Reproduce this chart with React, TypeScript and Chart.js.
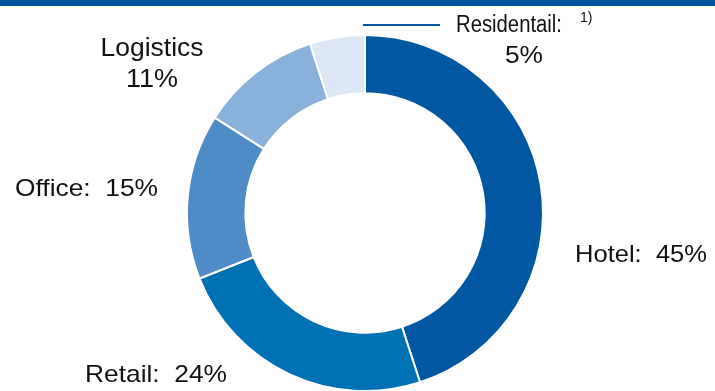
import React, { useEffect, useRef } from "react";
import { Chart, registerables } from "chart.js";

Chart.register(...registerables);

const categories = ["Hotel", "Retail", "Office", "Logistics", "Residentail"];
const shares = [45, 24, 15, 11, 5];
const colors = ["#0057A2", "#0071B5", "#4F8BC7", "#88B1DC", "#DCE6F5"];

const FAMILY = "'Liberation Sans', Arial, sans-serif";

function drawText(ctx: any, text: string, x: number, y: number, size: number, targetWidth: number, align: "left" | "center") {
  ctx.save();
  ctx.font = `${size}px ${FAMILY}`;
  const w = ctx.measureText(text).width;
  const sx = targetWidth > 0 ? targetWidth / w : 1;
  const left = align === "center" ? x - targetWidth / 2 : x;
  ctx.translate(left, y);
  ctx.scale(sx, 1);
  ctx.textAlign = "left";
  ctx.textBaseline = "alphabetic";
  ctx.fillText(text, 0, 0);
  ctx.restore();
}

const labelPlugin = {
  id: "labels",
  beforeDraw(chart: any) {
    const ctx = chart.ctx;
    ctx.save();
    ctx.fillStyle = "#0055A0";
    ctx.fillRect(0, 0, chart.width, 6);
    ctx.restore();
  },
  afterDraw(chart: any) {
    const ctx = chart.ctx;
    ctx.save();
    ctx.fillStyle = "#111111";
    drawText(ctx, `${categories[0]}:  ${shares[0]}%`, 575, 262, 24, 132, "left");
    drawText(ctx, `${categories[1]}:  ${shares[1]}%`, 85, 382, 24, 142, "left");
    drawText(ctx, `${categories[2]}:  ${shares[2]}%`, 15, 196, 24, 143, "left");
    drawText(ctx, categories[3], 152, 56, 25, 103, "center");
    drawText(ctx, `${shares[3]}%`, 152, 87, 25, 52, "center");
    drawText(ctx, `${categories[4]}:`, 456, 32, 23, 106, "left");
    drawText(ctx, "1)", 580, 22, 14, 0, "left");
    drawText(ctx, `${shares[4]}%`, 524, 63, 24, 38, "center");
    ctx.strokeStyle = "#0057A2";
    ctx.lineWidth = 2;
    ctx.beginPath();
    ctx.moveTo(363, 25);
    ctx.lineTo(440, 25);
    ctx.stroke();
    ctx.restore();
  },
};

export default function App() {
  const ref = useRef<HTMLCanvasElement>(null);
  useEffect(() => {
    document.body.style.margin = "0";
    const chart = new Chart(ref.current as HTMLCanvasElement, {
      type: "doughnut",
      data: {
        labels: categories,
        datasets: [
          {
            data: shares,
            backgroundColor: colors,
            borderColor: "#ffffff",
            borderWidth: 2,
            hoverOffset: 0,
          },
        ],
      },
      options: {
        animation: false,
        responsive: false,
        radius: 178,
        cutout: 119,
        layout: { padding: { left: 15, right: 0, top: 35, bottom: 0 } },
        plugins: { legend: { display: false }, tooltip: { enabled: false } },
      } as any,
      plugins: [labelPlugin],
    });
    return () => chart.destroy();
  }, []);
  return (
    <div style={{ position: "absolute", left: 0, top: 0, width: 715, height: 391, background: "#fff" }}>
      <canvas ref={ref} width={715} height={391} />
    </div>
  );
}
